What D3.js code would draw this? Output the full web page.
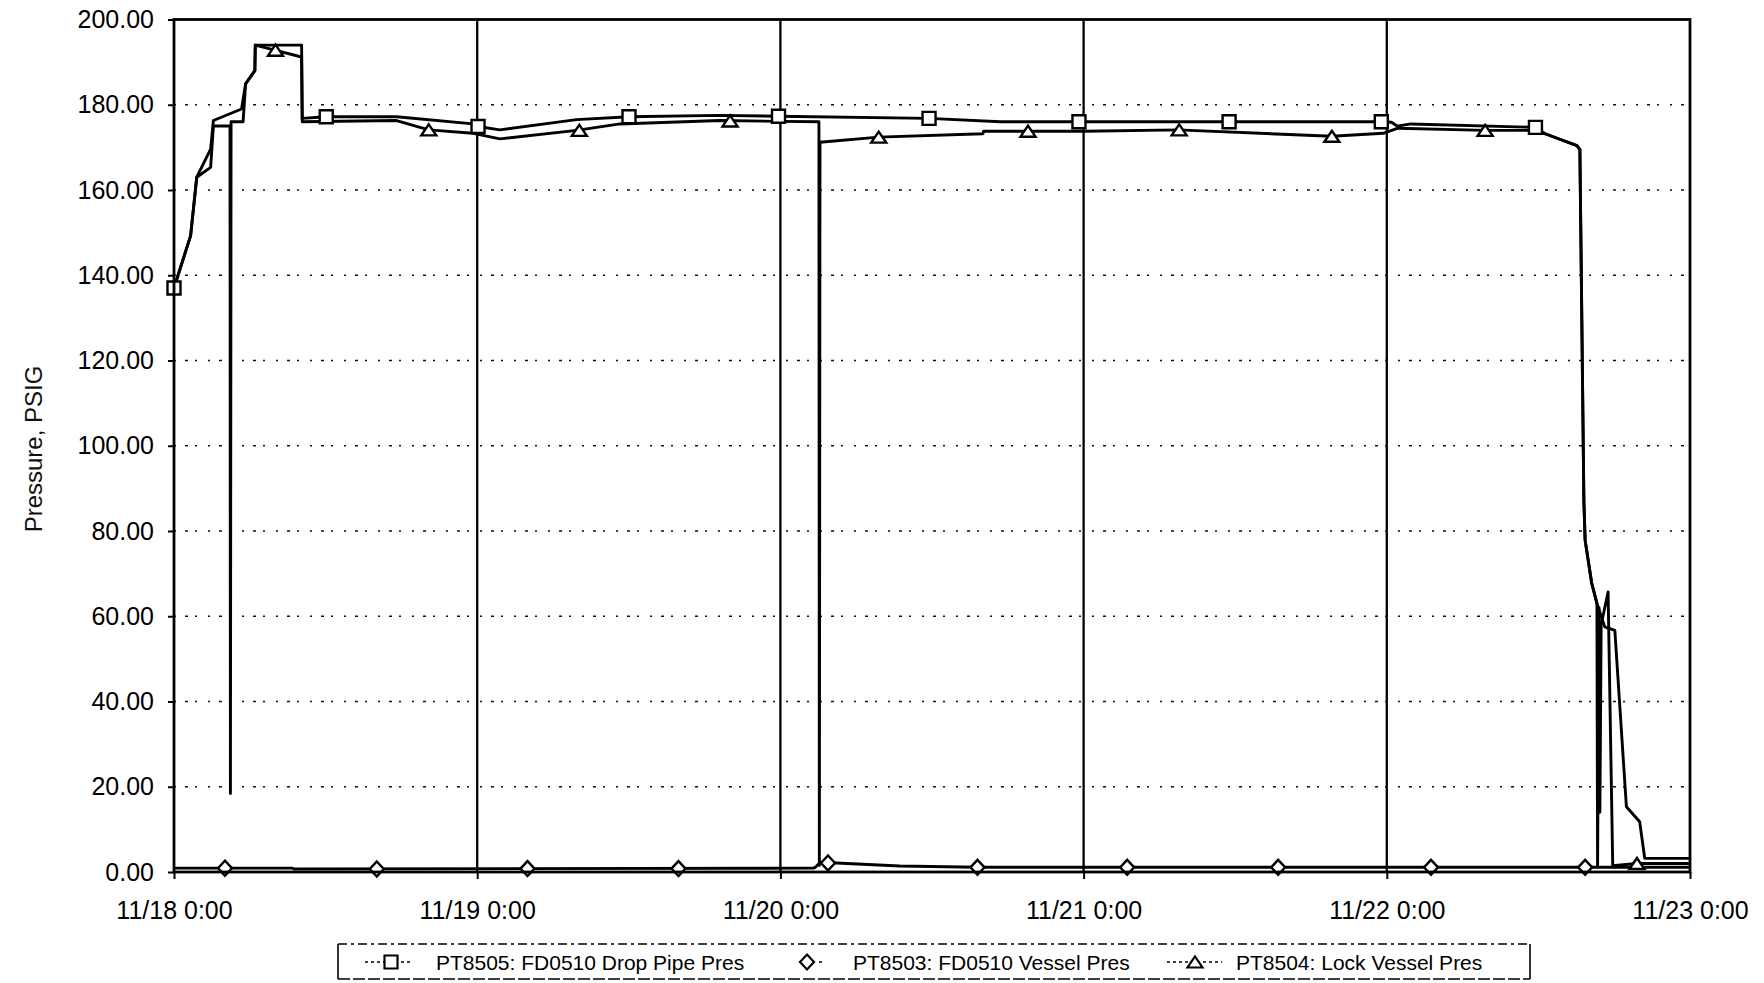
<!DOCTYPE html>
<html>
<head>
<meta charset="utf-8">
<script src="https://cdn.jsdelivr.net/npm/d3@7"></script>
<style>
  html, body { margin: 0; padding: 0; background: #fff; }
  svg { display: block; font-family: "Liberation Sans", Arial, Helvetica, sans-serif; }
</style>
</head>
<body>
<svg id="chart" width="1764" height="983"></svg>
<script>
// ---- data -----------------------------------------------------------------
// PT8505: FD0510 Drop Pipe Pres  [time, psig]
const dropPipe = [
  ["11/18 00:00", 137.0], ["11/18 01:19", 149.3], ["11/18 01:48", 163.0],
  ["11/18 02:54", 169.6], ["11/18 03:07", 176.3], ["11/18 05:21", 179.0],
  ["11/18 05:40", 184.9], ["11/18 06:24", 188.0], ["11/18 06:26", 194.0],
  ["11/18 10:06", 194.0], ["11/18 10:09", 176.8], ["11/18 12:03", 177.2],
  ["11/18 17:37", 177.2], ["11/18 23:41", 175.5], ["11/19 00:04", 174.9],
  ["11/19 01:48", 174.1], ["11/19 07:52", 176.5], ["11/19 12:01", 177.2],
  ["11/19 19:12", 177.5], ["11/19 23:51", 177.3], ["11/20 11:46", 176.8],
  ["11/20 17:23", 176.0], ["11/20 23:38", 176.0], ["11/21 11:31", 176.0],
  ["11/21 23:34", 176.0], ["11/22 00:22", 175.9], ["11/22 00:49", 175.0],
  ["11/22 01:55", 175.5], ["11/22 11:46", 174.7], ["11/22 12:32", 173.2],
  ["11/22 15:03", 170.4], ["11/22 15:17", 169.5], ["11/22 15:36", 87.0],
  ["11/22 15:42", 77.8], ["11/22 16:13", 67.8], ["11/22 16:38", 63.0],
  ["11/22 17:15", 57.5], ["11/22 18:03", 56.7], ["11/22 18:58", 15.3],
  ["11/22 20:01", 11.8], ["11/22 20:25", 3.2], ["11/23 00:00", 3.2]
];
const dropPipeMarkers = [
  ["11/18 00:00", 137.0], ["11/18 12:03", 177.2], ["11/19 00:04", 174.9],
  ["11/19 12:01", 177.2], ["11/19 23:51", 177.3], ["11/20 11:46", 176.8],
  ["11/20 23:38", 176.0], ["11/21 11:31", 176.0], ["11/21 23:34", 176.0],
  ["11/22 11:46", 174.7]
];

// PT8503: FD0510 Vessel Pres
const vessel = [
  ["11/18 00:00", 0.9], ["11/18 09:22", 0.9], ["11/18 09:30", 0.7],
  ["11/20 02:36", 0.9], ["11/20 02:46", 1.1], ["11/20 03:10", 2.3],
  ["11/20 09:27", 1.4], ["11/20 15:36", 1.1], ["11/23 00:00", 1.1]
];
const vesselMarkers = [
  ["11/18 04:02", 0.9], ["11/18 16:03", 0.7], ["11/19 03:59", 0.8],
  ["11/19 15:56", 0.8], ["11/20 03:46", 2.1], ["11/20 15:36", 1.1],
  ["11/21 03:27", 1.1], ["11/21 15:24", 1.1], ["11/22 03:30", 1.1],
  ["11/22 15:42", 1.1]
];

// PT8504: Lock Vessel Pres
const lockVessel = [
  ["11/18 00:00", 137.0], ["11/18 01:19", 149.3], ["11/18 01:48", 163.0],
  ["11/18 02:54", 165.3], ["11/18 03:07", 175.0], ["11/18 04:26", 175.0],
  ["11/18 04:28", 18.4], ["11/18 04:31", 176.0], ["11/18 05:28", 176.0],
  ["11/18 05:40", 184.9], ["11/18 06:24", 188.0], ["11/18 06:26", 194.0],
  ["11/18 10:06", 191.2], ["11/18 10:09", 176.0], ["11/18 17:37", 176.3],
  ["11/18 20:10", 174.1], ["11/18 23:41", 173.3], ["11/19 01:48", 172.0],
  ["11/19 07:52", 174.0], ["11/19 11:18", 175.5], ["11/19 19:12", 176.3],
  ["11/20 00:00", 176.1], ["11/20 03:03", 176.0], ["11/20 03:05", 1.5],
  ["11/20 03:08", 171.2], ["11/20 07:47", 172.4], ["11/20 16:02", 173.2],
  ["11/20 16:05", 173.8], ["11/21 00:00", 173.8], ["11/21 07:34", 174.1],
  ["11/21 08:25", 174.0], ["11/21 19:39", 172.6], ["11/21 23:43", 173.3],
  ["11/22 00:53", 174.5], ["11/22 07:47", 174.0], ["11/22 11:31", 174.0],
  ["11/22 12:32", 173.2], ["11/22 15:03", 170.4], ["11/22 15:17", 169.5],
  ["11/22 15:36", 87.0], ["11/22 15:42", 77.8], ["11/22 16:13", 67.8],
  ["11/22 16:38", 63.0], ["11/22 16:41", 1.2], ["11/22 16:48", 62.0],
  ["11/22 16:52", 14.0], ["11/22 16:58", 58.0], ["11/22 17:31", 65.7],
  ["11/22 17:53", 1.5], ["11/22 19:48", 2.0], ["11/23 00:00", 2.0]
];
const lockVesselMarkers = [
  ["11/18 08:02", 192.8], ["11/18 20:10", 174.1], ["11/19 08:05", 174.0],
  ["11/19 20:01", 176.2], ["11/20 07:47", 172.4], ["11/20 19:36", 173.8],
  ["11/21 07:34", 174.1], ["11/21 19:39", 172.6], ["11/22 07:47", 174.0],
  ["11/22 19:48", 2.0]
];

const xTickLabels = ["11/18 0:00", "11/19 0:00", "11/20 0:00", "11/21 0:00", "11/22 0:00", "11/23 0:00"];
const yTickValues = [0, 20, 40, 60, 80, 100, 120, 140, 160, 180, 200];
const seriesNames = ["PT8505: FD0510 Drop Pipe Pres", "PT8503: FD0510 Vessel Pres", "PT8504: Lock Vessel Pres"];
const axisTitle = "Pressure, PSIG";

// ---- layout ---------------------------------------------------------------
const plot = { left: 174, right: 1690, top: 19.5, bottom: 872 };
const parseTime = d3.timeParse("%m/%d %H:%M");
const xTicks = xTickLabels.map(parseTime);

const x = d3.scaleTime()
  .domain([xTicks[0], xTicks[xTicks.length - 1]])
  .range([plot.left, plot.right]);
const y = d3.scaleLinear().domain([0, 200]).range([plot.bottom, plot.top]);

const svg = d3.select("#chart");
svg.append("rect").attr("width", 1764).attr("height", 983).attr("fill", "#fff");

// horizontal gridlines (dotted)
svg.append("g")
  .selectAll("line")
  .data(yTickValues.filter(v => v > 0 && v < 200))
  .join("line")
  .attr("x1", plot.left).attr("x2", plot.right)
  .attr("y1", d => y(d)).attr("y2", d => y(d))
  .attr("stroke", "#111").attr("stroke-width", 1.6)
  .attr("stroke-dasharray", "2 9 3 7 2 11");

// vertical gridlines (solid) at each day
svg.append("g")
  .selectAll("line")
  .data(xTicks.slice(1, -1))
  .join("line")
  .attr("x1", d => x(d)).attr("x2", d => x(d))
  .attr("y1", plot.top).attr("y2", plot.bottom)
  .attr("stroke", "#000").attr("stroke-width", 2.3);

// axes
const yAxis = svg.append("g")
  .attr("transform", `translate(${plot.left},0)`)
  .call(d3.axisLeft(y).tickValues(yTickValues).tickFormat(d3.format(".2f")).tickSize(6).tickPadding(14));
const xAxis = svg.append("g")
  .attr("transform", `translate(0,${plot.bottom})`)
  .call(d3.axisBottom(x).tickValues(xTicks).tickFormat(d3.timeFormat("%m/%d %-H:%M")).tickSize(7).tickPadding(22));
[yAxis, xAxis].forEach(g => {
  g.select(".domain").remove();
  g.selectAll(".tick line").attr("stroke", "#000").attr("stroke-width", 2);
  g.selectAll(".tick text").attr("fill", "#000").style("font-size", "25px")
    .style("font-family", "'Liberation Sans', Arial, sans-serif");
});

// y axis title
svg.append("text")
  .attr("transform", "translate(33,449) rotate(-90)")
  .attr("text-anchor", "middle")
  .attr("dominant-baseline", "central")
  .style("font-size", "24px")
  .attr("fill", "#111")
  .text(axisTitle);

// ---- series ---------------------------------------------------------------
const line = d3.line()
  .x(d => x(parseTime(d[0])))
  .y(d => y(d[1]));

const lines = svg.append("g")
  .attr("fill", "none").attr("stroke", "#000")
  .attr("stroke-width", 2.9).attr("stroke-linejoin", "round");
[vessel, lockVessel, dropPipe].forEach(s => lines.append("path").attr("d", line(s)));

// marker shapes
const squarePath = s => `M${-s / 2},${-s / 2}h${s}v${s}h${-s}Z`;
const diamondPath = (w, h) => `M0,${-h / 2}L${w / 2},0L0,${h / 2}L${-w / 2},0Z`;
const trianglePath = (w, h) => `M0,${-h / 2}L${w / 2},${h / 2}L${-w / 2},${h / 2}Z`;
const shapes = {
  square: squarePath(13),
  diamond: diamondPath(14, 15),
  triangle: trianglePath(15, 11)
};

function drawMarkers(data, shape) {
  svg.append("g")
    .selectAll("path")
    .data(data)
    .join("path")
    .attr("transform", d => `translate(${x(parseTime(d[0]))},${y(d[1])})`)
    .attr("d", shapes[shape])
    .attr("fill", "#fff").attr("stroke", "#000").attr("stroke-width", 2.4);
}
drawMarkers(vesselMarkers, "diamond");
drawMarkers(lockVesselMarkers, "triangle");
drawMarkers(dropPipeMarkers, "square");

// plot frame
svg.append("rect")
  .attr("x", plot.left).attr("y", plot.top)
  .attr("width", plot.right - plot.left).attr("height", plot.bottom - plot.top)
  .attr("fill", "none").attr("stroke", "#000").attr("stroke-width", 2.8);

// ---- legend ---------------------------------------------------------------
const legend = svg.append("g");
const lg = { left: 338, right: 1530, top: 944, bottom: 979, mid: 962 };
legend.append("line").attr("x1", lg.left).attr("x2", lg.right).attr("y1", lg.top).attr("y2", lg.top)
  .attr("stroke", "#000").attr("stroke-width", 1.5).attr("stroke-dasharray", "9 4 3 4");
legend.append("line").attr("x1", lg.left).attr("x2", lg.right).attr("y1", lg.bottom).attr("y2", lg.bottom)
  .attr("stroke", "#000").attr("stroke-width", 1.5).attr("stroke-dasharray", "12 3");
[lg.left, lg.right].forEach(xx =>
  legend.append("line").attr("x1", xx).attr("x2", xx).attr("y1", lg.top).attr("y2", lg.bottom)
    .attr("stroke", "#000").attr("stroke-width", 1.6));

const legendItems = [
  { name: seriesNames[0], shape: "square", cx: 391, dash: [365, 411], tx: 436 },
  { name: seriesNames[1], shape: "diamond", cx: 807, dash: [819, 823], tx: 853 },
  { name: seriesNames[2], shape: "triangle", cx: 1195, dash: [1167, 1222], tx: 1236 }
];
legendItems.forEach(it => {
  legend.append("line")
    .attr("x1", it.dash[0]).attr("x2", it.dash[1]).attr("y1", lg.mid).attr("y2", lg.mid)
    .attr("stroke", "#000").attr("stroke-width", 1.5).attr("stroke-dasharray", "3 3");
  legend.append("path")
    .attr("transform", `translate(${it.cx},${lg.mid})`)
    .attr("d", shapes[it.shape])
    .attr("fill", "#fff").attr("stroke", "#000").attr("stroke-width", 2.2);
  legend.append("text")
    .attr("x", it.tx).attr("y", lg.mid)
    .attr("dominant-baseline", "central")
    .style("font-size", "21px").attr("fill", "#000")
    .text(it.name);
});
</script>
</body>
</html>
